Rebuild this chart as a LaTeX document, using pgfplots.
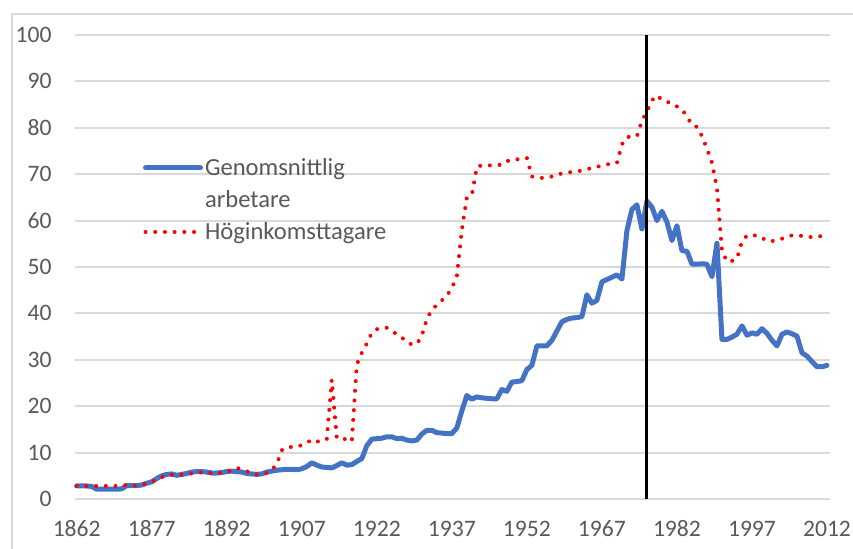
\documentclass[border=0pt]{standalone}
\usepackage{pgfplots}
\usepackage{pgfplotstable}
\pgfplotsset{compat=1.18}
\usepackage{fontspec}
\setmainfont{Carlito}
\definecolor{exblue}{HTML}{4472C4}
\definecolor{exred}{HTML}{FF0000}
\definecolor{exgrid}{HTML}{D9D9D9}
\definecolor{extext}{HTML}{595959}

\pgfplotstableread{
year w
1862 2.8
1863 2.8
1864 2.8
1865 2.7
1866 2.1
1867 2.1
1868 2.1
1869 2.1
1870 2.1
1871 2.2
1872 2.9
1873 2.9
1874 2.9
1875 3.0
1876 3.4
1877 3.7
1878 4.4
1879 5.0
1880 5.3
1881 5.4
1882 5.1
1883 5.3
1884 5.5
1885 5.8
1886 5.9
1887 5.9
1888 5.8
1889 5.6
1890 5.6
1891 5.7
1892 5.9
1893 6.0
1894 5.9
1895 5.8
1896 5.5
1897 5.4
1898 5.3
1899 5.4
1900 5.8
1901 6.0
1902 6.2
1903 6.3
1904 6.4
1905 6.4
1906 6.3
1907 6.5
1908 7.0
1909 7.8
1910 7.3
1911 6.9
1912 6.8
1913 6.7
1914 7.2
1915 7.8
1916 7.3
1917 7.4
1918 8.1
1919 8.7
1920 11.5
1921 12.9
1922 13.0
1923 13.1
1924 13.4
1925 13.4
1926 13.0
1927 13.1
1928 12.7
1929 12.5
1930 12.7
1931 14.0
1932 14.8
1933 14.8
1934 14.3
1935 14.2
1936 14.1
1937 14.1
1938 15.3
1939 19.0
1940 22.3
1941 21.5
1942 22.0
1943 21.8
1944 21.7
1945 21.6
1946 21.6
1947 23.6
1948 23.2
1949 25.2
1950 25.3
1951 25.5
1952 27.9
1953 28.8
1954 33.0
1955 33.0
1956 33.0
1957 34.2
1958 36.2
1959 38.2
1960 38.7
1961 39.0
1962 39.1
1963 39.3
1964 44.0
1965 42.2
1966 42.8
1967 46.8
1968 47.3
1969 47.8
1970 48.3
1971 47.4
1972 57.8
1973 62.4
1974 63.4
1975 58.2
1976 64.2
1977 62.9
1978 60.0
1979 62.0
1980 59.7
1981 55.7
1982 58.9
1983 53.5
1984 53.4
1985 50.6
1986 50.6
1987 50.7
1988 50.6
1989 47.9
1990 55.1
1991 34.4
1992 34.4
1993 34.9
1994 35.5
1995 37.3
1996 35.3
1997 35.8
1998 35.5
1999 36.7
2000 35.7
2001 34.2
2002 33.0
2003 35.5
2004 36.0
2005 35.6
2006 35.1
2007 31.5
2008 30.8
2009 29.6
2010 28.5
2011 28.5
2012 28.8
}\worker

\pgfplotstableread{
year h
1862 2.8
1863 2.8
1864 2.8
1865 2.8
1866 2.8
1867 2.8
1868 2.8
1869 2.8
1870 2.8
1871 2.9
1872 3.0
1873 2.9
1874 2.9
1875 3.1
1876 3.4
1877 3.7
1878 4.2
1879 4.7
1880 5.1
1881 5.2
1882 5.2
1883 5.2
1884 5.4
1885 5.5
1886 5.8
1887 5.7
1888 5.6
1889 5.6
1890 5.55
1891 5.6
1892 5.8
1893 6.3
1894 6.7
1895 6.4
1896 6.0
1897 5.5
1898 5.3
1899 5.3
1900 5.6
1901 6.3
1902 7.5
1903 10.5
1904 11.2
1905 11.2
1906 11.3
1907 11.6
1908 12.1
1909 12.8
1910 12.4
1911 12.4
1912 12.9
1913 25.7
1914 13.1
1915 13.1
1916 12.8
1917 12.4
1918 29.0
1919 31.5
1920 33.5
1921 35.8
1922 36.6
1923 36.8
1924 36.9
1925 36.2
1926 35.5
1927 34.8
1928 33.8
1929 33.3
1930 33.4
1931 35.2
1932 38.8
1933 40.8
1934 41.8
1935 42.8
1936 43.8
1937 45.5
1938 48.0
1939 58.0
1940 65.0
1941 65.5
1942 71.6
1943 71.9
1944 71.9
1945 71.9
1946 72.0
1947 72.0
1948 72.8
1949 73.1
1950 73.2
1951 73.3
1952 73.5
1953 69.5
1954 69.3
1955 69.2
1956 69.4
1957 69.5
1958 70.0
1959 70.1
1960 70.3
1961 70.5
1962 70.6
1963 70.8
1964 71.1
1965 71.3
1966 71.6
1967 71.8
1968 72.1
1969 72.3
1970 72.4
1971 76.4
1972 78.0
1973 78.1
1974 78.2
1975 81.5
1976 83.5
1977 85.9
1978 87.0
1979 86.0
1980 85.6
1981 85.3
1982 84.6
1983 84.0
1984 82.4
1985 80.6
1986 80.2
1987 78.2
1988 75.5
1989 72.5
1990 67.0
1991 53.5
1992 51.2
1993 51.3
1994 51.8
1995 55.5
1996 56.8
1997 56.8
1998 56.8
1999 56.3
2000 55.6
2001 55.6
2002 55.7
2003 56.1
2004 56.5
2005 56.8
2006 56.8
2007 56.7
2008 56.6
2009 56.4
2010 56.5
2011 56.7
2012 56.7
}\high

\begin{document}
\begin{tikzpicture}
\useasboundingbox (0pt,0pt) rectangle (426.5pt,274.5pt);
\draw[exgrid, line width=1pt] (6pt,-2pt) -- (6pt,267.5pt) -- (430pt,267.5pt);
\begin{axis}[
  at={(37.5pt,25pt)}, anchor=south west,
  scale only axis, width=377.5pt, height=232pt,
  xmin=1861.66, xmax=2012.6, ymin=0, ymax=100,
  xtick={1862,1877,...,2012}, ytick={0,10,...,100},
  axis line style={draw=none},
  major tick length=0pt,
  ymajorgrids, grid style={exgrid, line width=1pt},
  tick label style={font=\fontsize{11.8}{14}\selectfont, text=extext,
    /pgf/number format/assume math mode=true},
  x tick label style={/pgf/number format/1000 sep={}, anchor=center, inner sep=0pt, yshift=-15pt},
  y tick label style={anchor=east, inner sep=0pt, xshift=-11.5pt},
  clip=false,
  legend cell align=left,
  legend image code/.code={\draw[#1] (0pt,0pt) -- (27.5pt,0pt);},
  legend style={at={(0.0901,0.7317)}, anchor=north west, draw=none, fill=none,
    inner sep=0pt, outer sep=0pt,
    font=\fontsize{12.3}{14}\selectfont, text=extext,
    nodes={inner sep=0pt, text height=8pt, text depth=0.5pt},
    row sep=7.5pt, column sep=1pt},
]
\addplot[exblue, line width=2.5pt, line join=round, line cap=round] table[x=year, y=w] {\worker};
\addlegendentry{Genomsnittlig}
\addlegendimage{empty legend}
\addlegendentry{arbetare}
\addplot[exred, line width=2pt, line cap=round, dash pattern=on 0pt off 4.85pt] table[x=year, y=h] {\high};
\addlegendentry{Höginkomsttagare}
\addplot[black, line width=1.5pt, forget plot] coordinates {(1976,0) (1976,100)};
\end{axis}
\end{tikzpicture}
\end{document}
